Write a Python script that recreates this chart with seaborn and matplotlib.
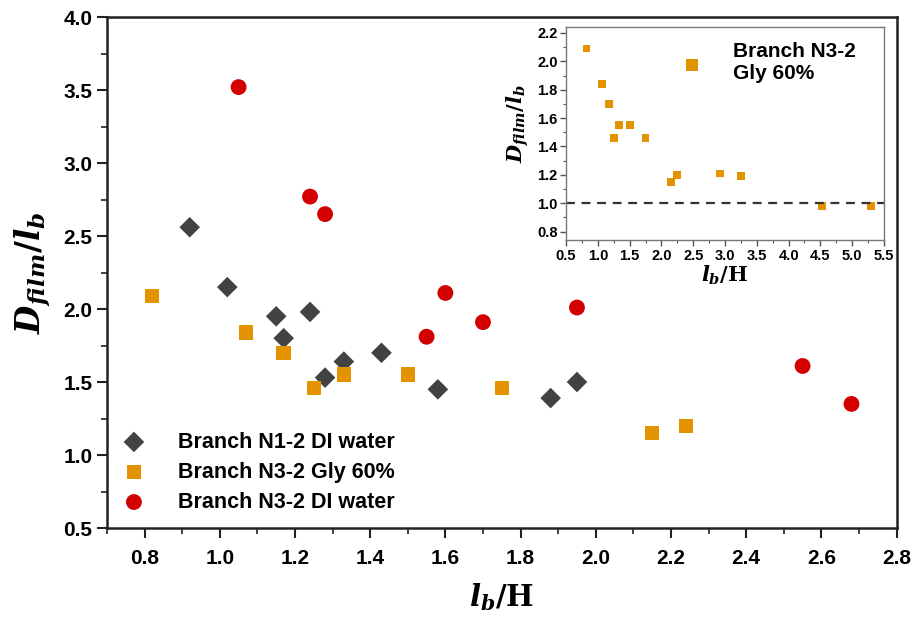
import matplotlib
matplotlib.use("Agg")
import matplotlib.pyplot as plt
import seaborn as sns
import pandas as pd
from matplotlib.ticker import MultipleLocator

# ---- data ----
n1_water_x = [0.92, 1.02, 1.15, 1.24, 1.17, 1.28, 1.33, 1.43, 1.58, 1.88, 1.95]
n1_water_y = [2.56, 2.15, 1.95, 1.98, 1.80, 1.53, 1.64, 1.70, 1.45, 1.39, 1.50]

n3_gly_x = [0.82, 1.07, 1.17, 1.25, 1.33, 1.50, 1.75, 2.15, 2.24]
n3_gly_y = [2.09, 1.84, 1.70, 1.46, 1.55, 1.55, 1.46, 1.15, 1.20]

n3_water_x = [1.05, 1.24, 1.28, 1.60, 1.55, 1.70, 1.95, 2.55, 2.68]
n3_water_y = [3.52, 2.77, 2.65, 2.11, 1.81, 1.91, 2.01, 1.61, 1.35]

inset_x = [0.82, 1.07, 1.17, 1.25, 1.33, 1.50, 1.75, 2.15, 2.24, 2.92, 3.25, 4.52, 5.30]
inset_y = [2.09, 1.84, 1.70, 1.46, 1.55, 1.55, 1.46, 1.15, 1.20, 1.21, 1.19, 0.98, 0.98]

labels = ["Branch N1-2 DI water", "Branch N3-2 Gly 60%", "Branch N3-2 DI water"]
inset_label = "Branch N3-2\nGly 60%"

GREY = "#424242"
ORANGE = "#E39300"
RED = "#D20000"

sns.set_theme(style="white")
plt.rcParams["font.family"] = ["Liberation Sans", "DejaVu Sans"]
plt.rcParams["font.weight"] = "bold"
plt.rcParams["text.color"] = "black"
plt.rcParams["axes.labelcolor"] = "black"
plt.rcParams["xtick.color"] = "black"
plt.rcParams["ytick.color"] = "black"
plt.rcParams["mathtext.fontset"] = "custom"
plt.rcParams["mathtext.it"] = "DejaVu Serif:italic:bold"
plt.rcParams["mathtext.rm"] = "DejaVu Serif:bold"
plt.rcParams["mathtext.bf"] = "DejaVu Serif:bold"

fig = plt.figure(figsize=(9.16, 6.19), dpi=100)
ax = fig.add_axes([0.1168, 0.147, 0.862, 0.8255])

df1 = pd.DataFrame({"x": n1_water_x, "y": n1_water_y})
df2 = pd.DataFrame({"x": n3_gly_x, "y": n3_gly_y})
df3 = pd.DataFrame({"x": n3_water_x, "y": n3_water_y})

sns.scatterplot(data=df1, x="x", y="y", ax=ax, marker="D", s=110, color=GREY,
                edgecolor="none", label=labels[0])
sns.scatterplot(data=df2, x="x", y="y", ax=ax, marker="s", s=110, color=ORANGE,
                edgecolor="none", label=labels[1])
sns.scatterplot(data=df3, x="x", y="y", ax=ax, marker="o", s=130, color=RED,
                edgecolor="none", label=labels[2])

ax.set_xlim(0.7, 2.8)
ax.set_ylim(0.5, 4.0)
ax.xaxis.set_major_locator(MultipleLocator(0.2))
ax.xaxis.set_minor_locator(MultipleLocator(0.1))
ax.yaxis.set_major_locator(MultipleLocator(0.5))
ax.yaxis.set_minor_locator(MultipleLocator(0.25))
ax.tick_params(axis="both", which="major", direction="out", length=7, width=1.5,
               labelsize=15, bottom=True, left=True, color="#222222")
ax.tick_params(axis="x", which="major", pad=7.8)
ax.tick_params(axis="both", which="minor", direction="out", length=4, width=1.2,
               bottom=True, left=True, color="#222222")
for lab in ax.get_xticklabels() + ax.get_yticklabels():
    lab.set_fontweight("bold")
for sp in ax.spines.values():
    sp.set_linewidth(1.8)
    sp.set_color("#222222")
ax.set_xlabel(r"$l_b/\mathrm{H}$", fontsize=21, labelpad=9.5)
ax.set_ylabel(r"$D_{film}/l_b$", fontsize=23.5, labelpad=7)

leg = ax.legend(loc="lower left", bbox_to_anchor=(0.0205, 0.03), frameon=False,
                fontsize=15.5, handlelength=1.0, handletextpad=1.55,
                labelspacing=0.42, borderaxespad=0.0, borderpad=0.0)
for t in leg.get_texts():
    t.set_fontweight("bold")

# ---- inset ----
axin = fig.add_axes([0.618, 0.612, 0.347, 0.344])
dfi = pd.DataFrame({"x": inset_x, "y": inset_y})
sns.scatterplot(data=dfi, x="x", y="y", ax=axin, marker="s", s=32, color=ORANGE,
                edgecolor="none", label=inset_label)
axin.axhline(1.0, color="#333333", linestyle=(0, (4, 3)), linewidth=1.6)
axin.set_xlim(0.5, 5.5)
axin.set_ylim(0.74, 2.24)
axin.xaxis.set_major_locator(MultipleLocator(0.5))
axin.xaxis.set_minor_locator(MultipleLocator(0.25))
axin.yaxis.set_major_locator(MultipleLocator(0.2))
axin.yaxis.set_minor_locator(MultipleLocator(0.1))
axin.tick_params(axis="both", which="major", direction="out", length=4, width=1.0,
                 labelsize=10.5, bottom=True, left=True, pad=2, color="#555555")
axin.tick_params(axis="both", which="minor", direction="out", length=2.5, width=0.8,
                 bottom=True, left=True, color="#555555")
for lab in axin.get_xticklabels() + axin.get_yticklabels():
    lab.set_fontweight("bold")
for sp in axin.spines.values():
    sp.set_linewidth(1.0)
    sp.set_color("#777777")
axin.set_xlabel(r"$l_b/\mathrm{H}$", fontsize=15, labelpad=1)
axin.set_ylabel(r"$D_{film}/l_b$", fontsize=15)
axin.yaxis.set_label_coords(-0.11, 0.55)
legi = axin.legend(loc="upper left", bbox_to_anchor=(0.364, 0.93), frameon=False,
                   fontsize=15, markerscale=1.5, handletextpad=1.47,
                   handlelength=1.0, borderaxespad=0.0, borderpad=0.0)
for t in legi.get_texts():
    t.set_fontweight("bold")

fig.savefig("out.png", dpi=100)
